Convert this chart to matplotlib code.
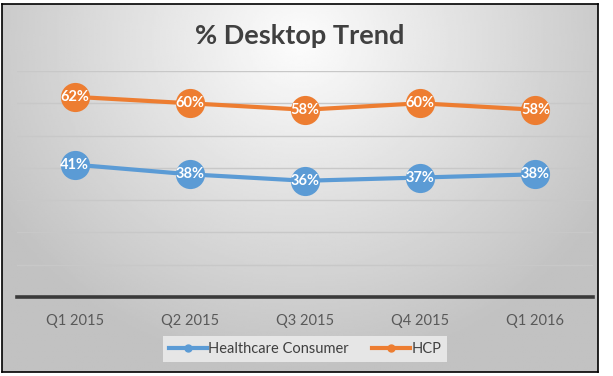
import matplotlib
matplotlib.use("Agg")
import matplotlib.pyplot as plt
import numpy as np
from matplotlib.lines import Line2D

quarters = ["Q1 2015", "Q2 2015", "Q3 2015", "Q4 2015", "Q1 2016"]
consumer = [41, 38, 36, 37, 38]
hcp = [62, 60, 58, 60, 58]

BLUE = "#5b9bd5"
ORANGE = "#ed7d31"
FONT = ["Lato", "DejaVu Sans"]

fig = plt.figure(figsize=(6.13, 3.76), dpi=100)
fig.patch.set_facecolor("white")

# chart area with radial gradient background
bg = fig.add_axes([2 / 613, 4 / 376, 596 / 613, 368 / 376])
yy, xx = np.mgrid[0:1:200j, 0:1:300j]
r = np.sqrt(((xx - 0.5) / 0.7) ** 2 + ((yy - 0.1) / 1.05) ** 2)
shade = np.clip(0.99 - 0.27 * r, 0.76, 1.0)
bg.imshow(shade, cmap="gray", vmin=0, vmax=1, aspect="auto",
          extent=[0, 1, 0, 1], origin="upper")
bg.set_xticks([]); bg.set_yticks([])
for s in bg.spines.values():
    s.set_color("black"); s.set_linewidth(1.2)

bg.text(0.5, 1 - 32 / 368, "% Desktop Trend", transform=bg.transAxes,
        ha="center", va="center", fontsize=19.5, fontweight="bold",
        color="#404040", family=FONT)

ax = fig.add_axes([17 / 613, 1 - 297 / 376, 576 / 613, 226 / 376])
ax.patch.set_alpha(0)
x = np.arange(len(quarters))
ax.set_xlim(-0.5, len(quarters) - 0.5)
ax.set_ylim(0, 70)
ax.set_yticks(np.arange(10, 71, 10))
ax.yaxis.grid(True, color="#c8c8c8", lw=1)
ax.tick_params(left=False, labelleft=False, bottom=False)
for s in ["top", "right", "left"]:
    ax.spines[s].set_visible(False)
ax.spines["bottom"].set_color("#3a3a3a")
ax.spines["bottom"].set_linewidth(2.6)
ax.set_xticks(x)
ax.set_xticklabels(quarters, fontsize=10.5, color="#595959", family=FONT)
ax.tick_params(axis="x", pad=9)

for vals, col in [(consumer, BLUE), (hcp, ORANGE)]:
    ax.plot(x, vals, color=col, lw=3, marker="o", ms=21,
            markeredgewidth=0, clip_on=False, zorder=3)
    for xi, v in zip(x, vals):
        ax.text(xi, v, f"{v}%", ha="center", va="center", fontsize=10.5,
                fontweight="bold", color="white", family=FONT, zorder=4)

handles = [Line2D([], [], color=BLUE, lw=3, marker="o", ms=5),
           Line2D([], [], color=ORANGE, lw=3, marker="o", ms=5)]
leg = fig.legend(handles, ["Healthcare Consumer", "HCP"], loc="center",
                 bbox_to_anchor=(305 / 613, 1 - 349 / 376), ncol=2,
                 frameon=True, fancybox=False, handlelength=2.6,
                 handletextpad=0.1, columnspacing=1.6,
                 prop={"family": FONT, "size": 10.5})
leg.get_frame().set_facecolor("#e6e6e6")
leg.get_frame().set_edgecolor("none")
leg.get_frame().set_alpha(1)
for t in leg.get_texts():
    t.set_color("#404040")

fig.savefig("out.png", dpi=100, facecolor="white")
